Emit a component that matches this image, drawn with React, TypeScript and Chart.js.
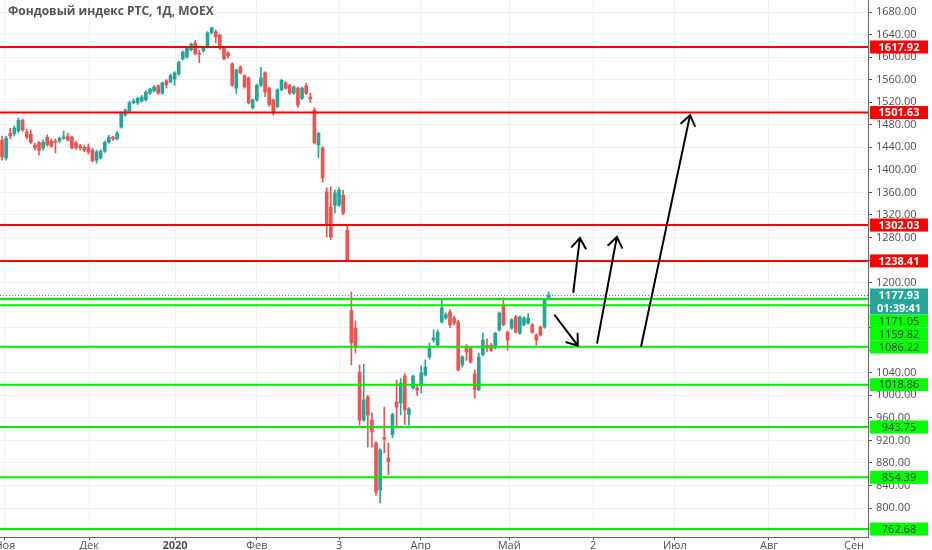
import React, { useEffect, useRef } from 'react';
import { Chart, registerables } from 'chart.js';

Chart.register(...registerables);

const TITLE = 'Фондовый индекс РТС, 1Д, MOEX';

const opens = [
  1453, 1421, 1465, 1464, 1469, 1488, 1467, 1463, 1444, 1448, 1439, 1458, 1451, 1451, 1451, 1456, 1460, 1458, 1448, 1442,
  1440, 1440, 1435, 1417, 1421, 1433, 1449, 1458, 1455, 1476, 1497, 1504, 1519, 1519, 1522, 1524, 1536, 1540, 1549, 1536,
  1558, 1556, 1561, 1570, 1597, 1600, 1613, 1625, 1607, 1611, 1618, 1643, 1645, 1639, 1616, 1607, 1588, 1545, 1582, 1567,
  1563, 1510, 1524, 1550, 1572, 1545, 1524, 1512, 1542, 1554, 1550, 1536, 1545, 1527, 1549, 1529, 1506, 1444, 1439, 1361,
  1334, 1337, 1337, 1355, 1293, 1150, 1119, 1041, 956, 997, 956, 915, 832, 925, 889, 930, 988, 986, 1034, 966,
  1013, 1013, 1017, 1036, 1068, 1098, 1089, 1130, 1137, 1148, 1137, 1130, 1054, 1086, 1084, 1038, 1010, 1072, 1089, 1089,
  1084, 1116, 1160, 1112, 1119, 1139, 1110, 1125, 1128, 1125, 1107, 1121, 1121, 1173,
];
const highs = [
  1460, 1460, 1474, 1478, 1492, 1490, 1472, 1471, 1447, 1450, 1453, 1462, 1455, 1455, 1458, 1469, 1465, 1460, 1450, 1445,
  1444, 1446, 1438, 1435, 1436, 1451, 1461, 1460, 1468, 1503, 1508, 1522, 1526, 1529, 1532, 1540, 1545, 1550, 1551, 1556,
  1560, 1570, 1574, 1593, 1611, 1618, 1625, 1630, 1612, 1618, 1645, 1653, 1648, 1641, 1618, 1610, 1590, 1579, 1585, 1569,
  1565, 1526, 1552, 1582, 1574, 1547, 1526, 1544, 1561, 1557, 1552, 1549, 1547, 1547, 1554, 1536, 1510, 1467, 1441, 1368,
  1370, 1364, 1368, 1364, 1302, 1183, 1132, 1054, 1055, 1000, 969, 918, 905, 979, 915, 968, 1027, 1030, 1038, 978,
  1036, 1018, 1052, 1063, 1093, 1116, 1116, 1169, 1146, 1152, 1140, 1133, 1070, 1090, 1086, 1045, 1075, 1111, 1100, 1092,
  1112, 1148, 1173, 1114, 1136, 1142, 1141, 1139, 1145, 1127, 1109, 1123, 1171, 1183,
];
const lows = [
  1417, 1417, 1455, 1460, 1466, 1468, 1455, 1446, 1435, 1426, 1435, 1442, 1440, 1430, 1449, 1454, 1451, 1437, 1436, 1435,
  1432, 1428, 1414, 1412, 1419, 1431, 1447, 1452, 1453, 1474, 1495, 1502, 1517, 1516, 1520, 1522, 1534, 1538, 1534, 1534,
  1545, 1554, 1550, 1568, 1595, 1598, 1611, 1604, 1590, 1609, 1616, 1641, 1625, 1613, 1595, 1598, 1548, 1535, 1570, 1545,
  1517, 1508, 1522, 1548, 1530, 1513, 1497, 1510, 1540, 1543, 1534, 1534, 1511, 1525, 1534, 1519, 1446, 1421, 1378, 1281,
  1276, 1323, 1335, 1320, 1237, 1054, 1075, 947, 954, 908, 908, 823, 809, 898, 859, 925, 942, 965, 948, 947,
  1011, 1000, 1004, 1034, 1064, 1094, 1087, 1128, 1135, 1120, 1125, 1043, 1050, 1062, 1057, 995, 1008, 1070, 1077, 1078,
  1082, 1114, 1123, 1080, 1117, 1110, 1108, 1123, 1126, 1110, 1089, 1105, 1119, 1171,
];
const closes = [
  1423, 1456, 1460, 1474, 1488, 1471, 1458, 1449, 1439, 1435, 1449, 1444, 1442, 1449, 1456, 1458, 1453, 1439, 1439, 1439,
  1435, 1432, 1416, 1432, 1433, 1449, 1458, 1455, 1465, 1501, 1506, 1519, 1522, 1527, 1529, 1538, 1543, 1547, 1536, 1554,
  1551, 1567, 1572, 1591, 1609, 1616, 1623, 1606, 1605, 1616, 1643, 1652, 1636, 1616, 1597, 1602, 1550, 1577, 1572, 1547,
  1519, 1524, 1550, 1563, 1538, 1515, 1502, 1542, 1559, 1545, 1536, 1547, 1515, 1545, 1536, 1526, 1448, 1465, 1386, 1302,
  1281, 1359, 1364, 1323, 1240, 1093, 1086, 956, 992, 965, 935, 828, 903, 922, 882, 966, 979, 1022, 974, 976,
  1034, 1009, 1040, 1050, 1084, 1102, 1112, 1155, 1143, 1125, 1128, 1045, 1068, 1077, 1059, 1010, 1068, 1098, 1084, 1080,
  1110, 1146, 1125, 1098, 1134, 1112, 1139, 1137, 1137, 1112, 1098, 1107, 1169, 1178,
];

const monthLabels = ['Ноя', 'Дек', '2020', 'Фев', '3', 'Апр', 'Май', '2', 'Июл', 'Авг', 'Сен'];
const monthIndex = [0.7, 21.2, 42.1, 62.0, 82.0, 101.9, 123.4, 143.8, 163.7, 186.6, 207.3];
const boldMonthLabels = ['2020'];

const yTicks = [800, 840, 880, 920, 960, 1000, 1040, 1080, 1120, 1160, 1200, 1240, 1280, 1320, 1360, 1400, 1440, 1480, 1520, 1560, 1600, 1640, 1680];

const redLevels = [1617.92, 1501.63, 1302.03, 1238.41];
const greenLevels = [1171.05, 1159.82, 1086.22, 1018.86, 943.75, 854.39, 762.68];
const lastPrice = 1177.93;
const countdown = '01:39:41';

// arrows: start (bar index, price) -> end (bar index, price)
const arrowStartX = [134.5, 139.0, 144.8, 155.5];
const arrowStartY = [1142, 1183, 1093, 1087];
const arrowEndX = [140.1, 140.6, 149.6, 167.4];
const arrowEndY = [1088, 1279, 1281, 1497];

const X_MIN = -0.49;
const X_MAX = 210.7;
const Y_MIN = 748.6;
const Y_MAX = 1701.3;

const UP = '#26a69a';
const DOWN = '#ef5350';
const RED_LINE = '#ff0000';
const GREEN_LINE = '#00ee00';
const GREEN_TAG = '#00ff00';
const TEAL_TAG = '#26a69a';
const FONT = "'Open Sans', 'DejaVu Sans', sans-serif";

const overlayPlugin = {
  id: 'overlay',
  afterDatasetsDraw(chart: any) {
    const { ctx, chartArea: a, scales } = chart;
    const x = scales.x;
    const y = scales.y;
    ctx.save();
    ctx.beginPath();
    ctx.rect(a.left, a.top, a.right - a.left, a.bottom - a.top);
    ctx.clip();

    // last price dotted line
    const lp = y.getPixelForValue(lastPrice);
    ctx.strokeStyle = TEAL_TAG;
    ctx.lineWidth = 1;
    ctx.setLineDash([1, 2]);
    ctx.beginPath();
    ctx.moveTo(a.left, lp + 0.5);
    ctx.lineTo(a.right, lp + 0.5);
    ctx.stroke();
    ctx.setLineDash([]);

    // horizontal levels
    ctx.lineWidth = 2;
    ctx.strokeStyle = RED_LINE;
    redLevels.forEach((v) => {
      const py = y.getPixelForValue(v);
      ctx.beginPath();
      ctx.moveTo(a.left, py);
      ctx.lineTo(a.right, py);
      ctx.stroke();
    });
    ctx.strokeStyle = GREEN_LINE;
    greenLevels.forEach((v) => {
      const py = y.getPixelForValue(v);
      ctx.beginPath();
      ctx.moveTo(a.left, py);
      ctx.lineTo(a.right, py);
      ctx.stroke();
    });

    // arrows
    ctx.strokeStyle = '#000';
    ctx.lineWidth = 2;
    ctx.lineCap = 'round';
    arrowStartX.forEach((sx, i) => {
      const x0 = x.getPixelForValue(sx);
      const y0 = y.getPixelForValue(arrowStartY[i]);
      const x1 = x.getPixelForValue(arrowEndX[i]);
      const y1 = y.getPixelForValue(arrowEndY[i]);
      ctx.beginPath();
      ctx.moveTo(x0, y0);
      ctx.lineTo(x1, y1);
      const ang = Math.atan2(y1 - y0, x1 - x0);
      const L = 12;
      const spread = Math.PI / 5;
      ctx.moveTo(x1 - L * Math.cos(ang - spread), y1 - L * Math.sin(ang - spread));
      ctx.lineTo(x1, y1);
      ctx.lineTo(x1 - L * Math.cos(ang + spread), y1 - L * Math.sin(ang + spread));
      ctx.stroke();
    });
    ctx.restore();
  },
  afterDraw(chart: any) {
    const { ctx, chartArea: a, scales } = chart;
    const x = scales.x;
    const y = scales.y;
    ctx.save();

    // y axis labels
    ctx.font = `11px ${FONT}`;
    ctx.fillStyle = '#4f4f4f';
    ctx.textAlign = 'left';
    ctx.textBaseline = 'middle';
    yTicks.forEach((v) => {
      ctx.fillText(v.toFixed(2), a.right + 8, y.getPixelForValue(v));
    });

    // x axis labels
    ctx.textAlign = 'center';
    monthIndex.forEach((v, i) => {
      const lab = monthLabels[i];
      ctx.font = boldMonthLabels.includes(lab) ? `bold 11px ${FONT}` : `11px ${FONT}`;
      ctx.fillText(lab, x.getPixelForValue(v), a.bottom + 9);
    });

    // price tags
    type Tag = { value: number; bg: string; fg: string; bold: boolean; rows: string[] };
    const tags: Tag[] = [];
    redLevels.forEach((v) => tags.push({ value: v, bg: '#ff0000', fg: '#ffffff', bold: true, rows: [v.toFixed(2)] }));
    greenLevels.forEach((v) => tags.push({ value: v, bg: GREEN_TAG, fg: '#2b3a2b', bold: false, rows: [v.toFixed(2)] }));
    tags.push({ value: lastPrice, bg: TEAL_TAG, fg: '#ffffff', bold: true, rows: [lastPrice.toFixed(2), countdown] });
    tags.sort((p, q) => q.value - p.value);
    const h = 13;
    let prevBottom = -Infinity;
    const left = a.right + 2;
    const w = 58;
    tags.forEach((t) => {
      let top = y.getPixelForValue(t.value) - h / 2;
      if (top < prevBottom) top = prevBottom;
      const total = h * t.rows.length;
      ctx.fillStyle = t.bg;
      ctx.fillRect(left, top, w, total);
      ctx.fillStyle = t.fg;
      ctx.font = `${t.bold ? 'bold ' : ''}11px ${FONT}`;
      ctx.textAlign = 'center';
      ctx.textBaseline = 'middle';
      t.rows.forEach((r, k) => ctx.fillText(r, left + w / 2, top + h * k + h / 2 + 0.5));
      prevBottom = top + total;
    });

    // title
    ctx.font = `bold 12px ${FONT}`;
    ctx.fillStyle = '#555555';
    ctx.textAlign = 'left';
    ctx.textBaseline = 'middle';
    ctx.fillText(TITLE, 8, 12);
    ctx.restore();
  },
};

export default function App() {
  const ref = useRef<HTMLCanvasElement>(null);
  useEffect(() => {
    document.body.style.margin = '0';
    const idx = opens.map((_, i) => i);
    const colors = idx.map((i) => (closes[i] >= opens[i] ? UP : DOWN));
    const chart = new Chart(ref.current as HTMLCanvasElement, {
      type: 'bar',
      data: {
        datasets: [
          {
            data: idx.map((i) => ({ x: i, y: [lows[i], highs[i]] })) as any,
            backgroundColor: colors,
            barThickness: 1,
            grouped: false,
            borderWidth: 0,
          } as any,
          {
            data: idx.map((i) => ({ x: i, y: [opens[i], closes[i]] })) as any,
            backgroundColor: colors,
            barThickness: 3,
            minBarLength: 1,
            grouped: false,
            borderWidth: 0,
          } as any,
        ],
      },
      options: {
        animation: false,
        responsive: false,
        events: [],
        layout: { padding: 0 },
        plugins: { legend: { display: false }, tooltip: { enabled: false }, title: { display: false } },
        scales: {
          x: {
            type: 'linear',
            min: X_MIN,
            max: X_MAX,
            offset: false,
            grid: { color: '#eef1f6', tickColor: '#555', tickLength: 3, offset: false },
            border: { display: true, color: '#666' },
            ticks: { display: false },
            afterBuildTicks: (s: any) => {
              s.ticks = monthIndex.map((v) => ({ value: v }));
            },
            afterFit: (s: any) => {
              s.height = 13;
            },
          },
          y: {
            type: 'linear',
            position: 'right',
            min: Y_MIN,
            max: Y_MAX,
            grid: { color: '#eef1f6', tickColor: '#555', tickLength: 4 },
            border: { display: true, color: '#666' },
            ticks: { display: false },
            afterBuildTicks: (s: any) => {
              s.ticks = yTicks.map((v) => ({ value: v }));
            },
            afterFit: (s: any) => {
              s.width = 64;
            },
          },
        } as any,
      },
      plugins: [overlayPlugin],
    });
    return () => chart.destroy();
  }, []);
  return <canvas ref={ref} width={932} height={550} style={{ display: 'block', width: 932, height: 550 }} />;
}
